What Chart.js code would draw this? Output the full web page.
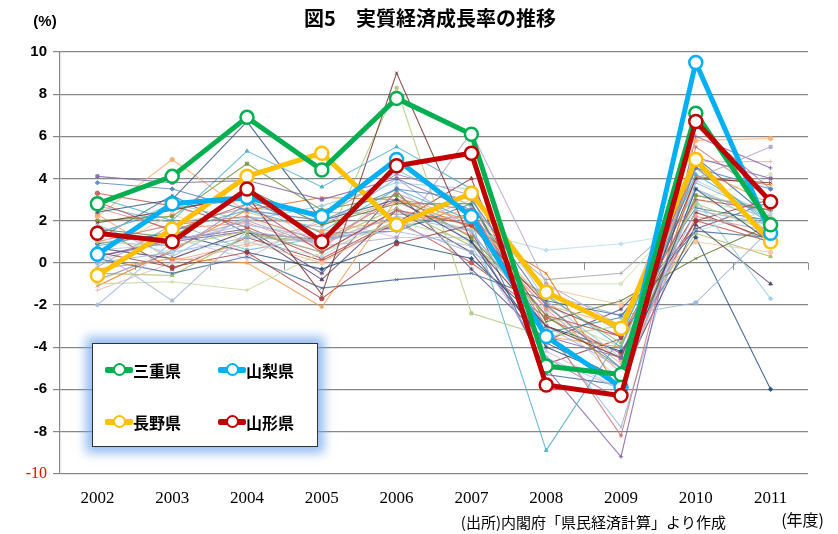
<!DOCTYPE html>
<html>
<head>
<meta charset="utf-8">
<script src="https://cdn.jsdelivr.net/npm/chart.js@4.4.1/dist/chart.umd.min.js"></script>
<style>
  html, body { margin: 0; padding: 0; background: #fff; }
  #wrap { position: relative; width: 838px; height: 534px; }
  #legend {
    position: absolute; left: 92px; top: 343px; width: 224px; height: 102px;
    border: 1.5px solid #333; background: #fff;
    box-shadow: 0 0 10px 6px rgba(110,165,235,0.75);
    font-family: "Noto Sans CJK JP", sans-serif; font-weight: bold; font-size: 16px; color: #000;
  }
  .item { position: absolute; display: flex; align-items: center; height: 20px; }
  .mk { position: relative; width: 28px; height: 20px; }
  .mk .ln { position: absolute; left: 0; right: 0; top: 7px; height: 6px; border-radius: 2px; }
  .mk .ct { position: absolute; left: 8px; top: 3px; width: 9px; height: 9px; border-radius: 50%; background: #fff; border-width: 2px; border-style: solid; }
</style>
</head>
<body>
<div id="wrap">
  <canvas id="c" width="838" height="534"></canvas>
  <div id="legend"></div>
</div>
<script>
// ---- data ----
const years = ['2002','2003','2004','2005','2006','2007','2008','2009','2010','2011'];
const yTicks = [-10,-8,-6,-4,-2,0,2,4,6,8,10];
const titleText = '図5　実質経済成長率の推移';
const sourceText = '(出所)内閣府「県民経済計算」より作成';
const unitText = '(%)';
const xUnitText = '(年度)';

const mie       = [2.8, 4.1, 6.9, 4.4, 7.8, 6.1, -4.9, -5.3, 7.1, 1.8];
const yamanashi = [0.4, 2.8, 3.1, 2.2, 4.9, 2.2, -3.5, -5.9, 9.5, 1.4];
const nagano    = [-0.6, 1.6, 4.1, 5.2, 1.8, 3.3, -1.4, -3.1, 4.9, 1.0];
const yamagata  = [1.4, 1.0, 3.5, 1.0, 4.6, 5.2, -5.8, -6.3, 6.7, 2.9];

const pref01 = [4.1, 3.8, 3.9, 3.0, 4.0, 2.5, -3.5, -4.5, 5.0, 4.0];
const pref02 = [3.8, 3.5, 2.5, 2.0, 3.5, 3.0, -2.0, -5.0, 4.5, 3.5];
const pref03 = [3.1, 2.0, 5.3, 3.6, 5.5, 3.5, -1.5, -4.0, 4.2, 2.0];
const pref04 = [2.9, 1.5, 2.8, 0.5, 2.5, 1.8, -2.5, -3.5, 3.0, 2.5];
const pref05 = [2.4, 3.0, 6.7, 2.0, 3.0, 1.0, -4.0, -5.5, 3.5, 1.0];
const pref06 = [2.2, 4.9, 2.4, 1.5, 2.0, 2.2, -2.0, -3.0, 5.8, 5.9];
const pref07 = [1.9, 2.5, 3.2, -1.5, 9.0, 1.0, -3.0, -4.5, 4.0, 3.8];
const pref08 = [1.0, 0.8, 1.5, 0.5, 8.3, -2.4, -3.5, -3.0, 2.8, 1.5];
const pref09 = [-2.0, 1.0, 1.8, 1.2, 1.5, 0.8, -4.5, -6.0, 3.5, 2.0];
const pref10 = [0.6, -1.8, 1.5, 1.0, 2.2, 1.5, -3.0, -5.0, 2.5, 1.8];
const pref11 = [-1.0, -0.9, -1.3, 0.5, 2.0, 1.0, -2.5, -4.0, 3.0, 2.2];
const pref12 = [-0.3, 0.2, 0.0, -2.1, 3.0, 2.0, -3.5, -4.0, 4.5, 2.8];
const pref13 = [0.5, -0.2, 0.5, -1.7, 0.9, 1.8, -2.0, -3.5, 2.0, 3.0];
const pref14 = [0.2, -0.5, 0.3, -1.2, -0.8, -0.5, -1.8, -2.5, 1.5, 1.2];
const pref15 = [1.5, 1.0, 2.0, 0.8, 1.2, 6.2, -1.0, -3.0, 4.0, 5.5];
const pref16 = [1.2, 0.5, 1.0, 0.3, 2.5, 1.5, 0.6, 0.9, 1.5, 2.5];
const pref17 = [0.8, 1.5, 2.5, 1.5, 3.5, 2.0, -8.9, -3.5, 4.5, 1.8];
const pref18 = [0.3, 1.0, 1.5, 0.5, 2.5, 1.5, -5.0, -9.2, 6.0, 4.5];
const pref19 = [1.0, 1.8, 2.2, 1.0, 3.0, 2.5, -3.0, -8.2, 5.5, 3.0];
const pref20 = [0.0, 0.5, 1.2, 1.0, 1.8, 0.5, -1.5, -2.5, -1.9, 1.6];
const pref21 = [1.6, 1.2, 3.5, 1.8, 2.8, 2.8, -2.8, -1.8, 0.2, 1.8];
const pref22 = [2.0, 2.2, 4.7, 2.5, 3.2, 1.2, -2.5, -5.0, 3.2, 2.5];
const pref23 = [1.3, 2.8, 2.0, 2.7, 3.8, 3.5, -1.8, -4.5, 3.0, -1.7];
const pref24 = [0.7, 0.2, 1.5, -0.8, 2.5, 0.5, -3.8, -5.5, 1.8, -1.0];
const pref25 = [-1.3, 0.0, 0.8, 1.3, 1.6, 3.0, -2.0, -4.8, 4.8, 4.8];
const pref26 = [-0.8, 0.5, 2.8, 2.2, 4.2, 3.2, -4.5, -6.5, 6.5, 3.5];
const pref27 = [0.4, 2.3, 1.0, 0.0, 2.0, 2.5, -1.2, -2.0, 1.0, 0.5];
const pref28 = [1.8, 0.3, 2.2, 1.7, 4.0, 1.5, -3.2, -7.8, 3.8, 2.2];
const pref29 = [2.6, 1.6, 1.9, 0.7, 3.3, 1.8, -2.2, -5.2, 2.2, 1.5];
const pref30 = [0.9, 1.4, 0.5, -0.3, 1.0, 0.2, -3.0, -4.2, 1.2, -6.0];
const pref31 = [-0.5, -0.6, 1.3, 1.0, 2.6, 0.8, -1.6, -3.8, 1.4, 0.3];
const pref32 = [1.4, 2.6, 3.0, 1.4, 1.5, 2.8, -3.3, -2.6, 2.6, 2.0];
const pref33 = [0.1, 1.2, 0.2, 2.1, 1.2, 1.2, -4.2, -6.0, 3.2, 2.6];
const pref34 = [3.3, 2.7, 1.7, 0.2, 2.0, 0.0, -2.6, -4.3, 2.0, 1.0];
const pref35 = [-1.1, 0.6, 2.5, 3.1, 3.0, 1.7, -0.5, -6.2, 4.1, 3.7];
const pref36 = [2.7, 1.9, 0.6, 1.2, 4.4, 2.7, -1.3, -3.3, 3.5, 1.7];
const pref37 = [0.6, 0.9, 3.4, 0.6, 3.6, 0.9, -2.3, -5.6, 3.9, 2.3];
const pref38 = [1.7, -0.3, 1.2, 0.1, 1.9, 4.0, -4.8, -3.6, 2.4, 1.1];
const pref39 = [-0.2, 1.8, 2.6, 2.4, 2.3, 2.1, -0.8, -0.5, 2.7, 0.9];
const pref40 = [0.3, 1.1, 1.6, -0.5, 3.4, -0.3, -3.7, -2.2, 1.6, 2.9];
const pref41 = [2.3, 0.1, 0.9, 1.9, 2.9, 1.3, -2.1, -4.6, 4.6, 1.3];
const pref42 = [1.1, 3.2, 1.4, 1.1, 1.7, 2.3, -5.3, -5.8, 5.0, 2.1];
const pref43 = [-0.9, 0.7, 2.1, 0.9, 2.4, 1.6, -1.0, -1.0, 2.9, 4.2];

const others = [pref01,pref02,pref03,pref04,pref05,pref06,pref07,pref08,pref09,pref10,
  pref11,pref12,pref13,pref14,pref15,pref16,pref17,pref18,pref19,pref20,pref21,pref22,
  pref23,pref24,pref25,pref26,pref27,pref28,pref29,pref30,pref31,pref32,pref33,pref34,
  pref35,pref36,pref37,pref38,pref39,pref40,pref41,pref42,pref43];
const otherColors = ['#8064A2','#4F81BD','#4BACC6','#C0504D','#2C4D75','#F9AB6B','#772C2A','#AFC97A',
  '#A7B9E3','#A5B6D6','#C3D69B','#F79646','#9C3A38','#3A6595','#B3A2C7','#B7DEE8','#4BACC6','#7F5FA8',
  '#CD7371','#95B3D7','#5F7530','#77933C','#93CDDD','#4D3B62','#E6B9B8','#9983B5','#FAC090','#8EB4E3',
  '#D99694','#1F497D','#9BBB59','#31859C','#CCC1DA','#C0504D','#E46C0A','#6FBDD1','#B9CDE5','#953735',
  '#A6A6A6','#604A7B','#F2A47A','#376092','#D7E4BD'];
const shapes = ['rect','rectRot','triangle','cross','star','circle','crossRot'];

const main = [
  {label:'山形県', data: yamagata, color:'#C00000'},
  {label:'三重県', data: mie, color:'#00B050'},
  {label:'山梨県', data: yamanashi, color:'#00B0F0'},
  {label:'長野県', data: nagano, color:'#FFC000'}
];

const datasets = [];
main.forEach(m => datasets.push({
  label: m.label, data: m.data, borderColor: m.color, backgroundColor: '#fff',
  borderWidth: 5, pointRadius: 6.5, pointBorderWidth: 2.5, pointBackgroundColor: '#fff',
  pointBorderColor: m.color, tension: 0
}));
others.forEach((d, i) => {
  const c = otherColors[i % otherColors.length];
  datasets.push({
    label: 'p' + i, data: d, borderColor: c + 'D0', backgroundColor: c + 'D0',
    borderWidth: 1.1, pointRadius: 2.2, pointStyle: shapes[i % shapes.length],
    pointBorderColor: c + 'D0', pointBackgroundColor: c + 'D0', pointBorderWidth: 1, tension: 0
  });
});

const extras = {
  id: 'extras',
  beforeDatasetsDraw(chart) {
    const ctx = chart.ctx, x = chart.scales.x, y = chart.scales.y;
    const y0 = y.getPixelForValue(0);
    ctx.save();
    ctx.strokeStyle = '#8c8c8c'; ctx.lineWidth = 1;
    for (let i = 0; i < years.length; i++) {
      const bx = i < years.length - 1 ? (x.getPixelForValue(i) + x.getPixelForValue(i + 1)) / 2 : chart.chartArea.right;
      ctx.beginPath(); ctx.moveTo(Math.round(bx) + 0.5, y0); ctx.lineTo(Math.round(bx) + 0.5, y0 + 7); ctx.stroke();
    }
    ctx.restore();
  },
  afterDraw(chart) {
    const ctx = chart.ctx;
    ctx.save();
    ctx.fillStyle = '#000';
    ctx.textBaseline = 'middle';
    ctx.textAlign = 'center';
    ctx.font = 'bold 20px "Noto Sans CJK JP", sans-serif';
    ctx.fillText(titleText, 430, 18);
    ctx.font = 'bold 15px "Liberation Sans", sans-serif';
    ctx.fillText(unitText, 45, 22);
    ctx.font = '15px "Noto Sans CJK JP", sans-serif';
    ctx.textAlign = 'right';
    ctx.fillText(sourceText, 726, 522);
    ctx.font = '16px "Noto Sans CJK JP", sans-serif';
    ctx.fillText(xUnitText, 824, 520);
    ctx.restore();
  }
};

new Chart(document.getElementById('c'), {
  type: 'line',
  data: { labels: years, datasets },
  options: {
    responsive: false, animation: false,
    layout: { padding: { left: 0, right: 30, top: 52, bottom: 18 } },
    plugins: {
      legend: { display: false },
      tooltip: { enabled: false },
      title: { display: false }
    },
    scales: {
      x: {
        offset: true,
        grid: { display: false },
        border: { display: false },
        ticks: { color: '#000', padding: 7, font: { family: '"Liberation Serif", serif', size: 17 } }
      },
      y: {
        min: -10, max: 10,
        afterBuildTicks(s) { s.ticks = yTicks.map(v => ({ value: v })); },
        afterFit(s) { s.width = 60; },
        grid: { color: '#878787', lineWidth: 1.2, tickLength: 7 },
        border: { color: '#878787', width: 1.2 },
        ticks: {
          padding: 6,
          color: c => c.tick.value === -10 ? '#FF0000' : '#000',
          font: c => c.tick && c.tick.value === -10
            ? { family: '"Liberation Serif", serif', size: 16 }
            : { family: '"Liberation Sans", sans-serif', size: 15, weight: 'bold' }
        }
      }
    }
  },
  plugins: [extras]
});

// legend (HTML) built from the highlighted series
const legendOrder = ['三重県','山梨県','長野県','山形県'];
const pos = [[12,16],[125,16],[12,68],[125,68]];
const lg = document.getElementById('legend');
legendOrder.forEach((name, i) => {
  const m = main.find(d => d.label === name);
  const it = document.createElement('div');
  it.className = 'item';
  it.style.left = pos[i][0] + 'px'; it.style.top = pos[i][1] + 'px';
  it.innerHTML = '<div class="mk"><div class="ln" style="background:' + m.color + '"></div><div class="ct" style="border-color:' + m.color + '"></div></div><span>' + name + '</span>';
  lg.appendChild(it);
});
</script>
</body>
</html>
